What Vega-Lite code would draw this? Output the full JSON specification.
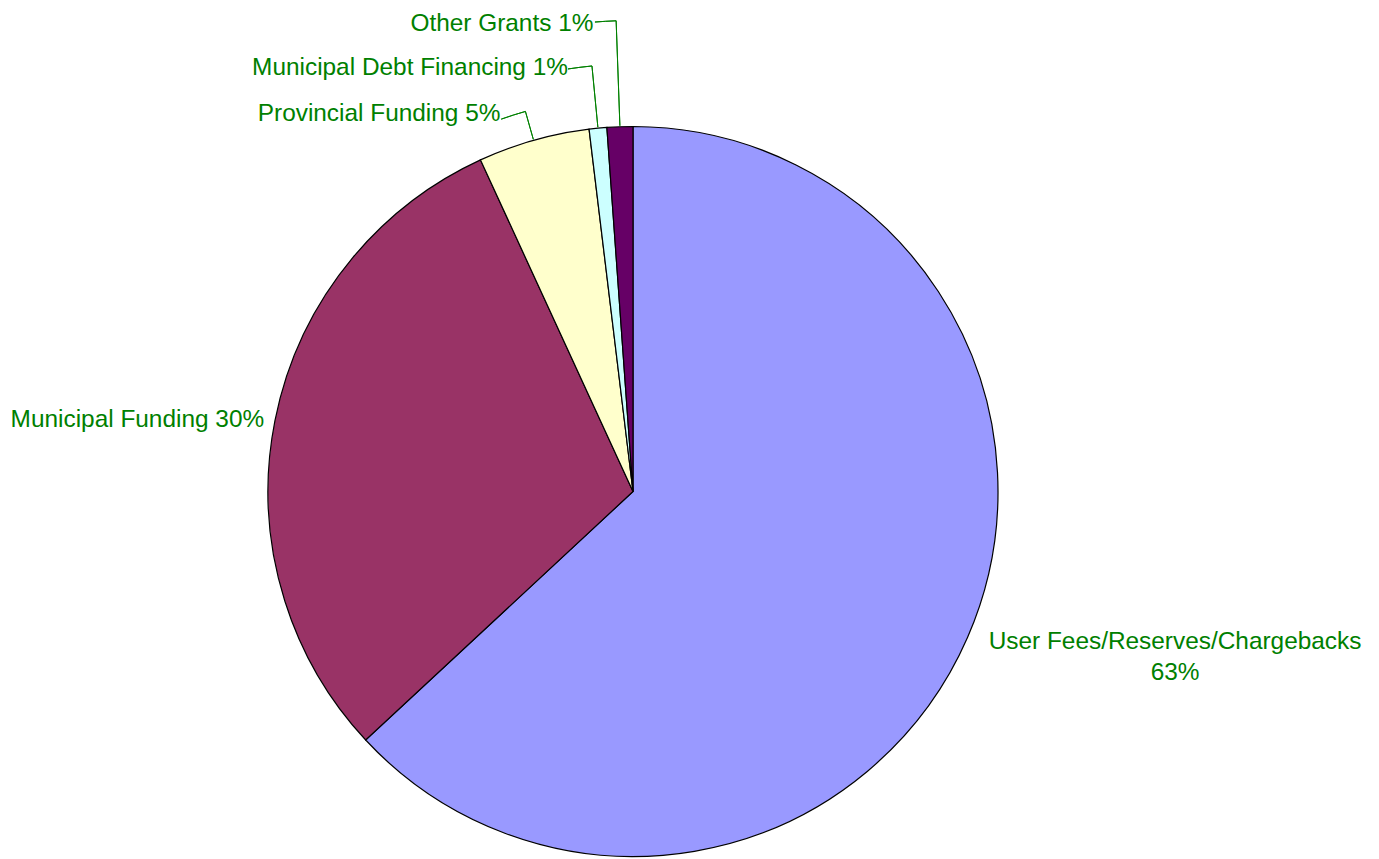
{
  "$schema": "https://vega.github.io/schema/vega-lite/v6.json",
  "width": 1266,
  "height": 735,
  "autosize": {"type": "none"},
  "padding": {"left": 0, "top": 124, "right": 113, "bottom": 0},
  "background": "white",
  "view": {"stroke": null},
  "config": {
    "text": {"font": "Liberation Sans", "fontSize": 24.4, "color": "#008000", "baseline": "alphabetic"}
  },
  "data": {
    "values": [
      {"source": "User Fees/Reserves/Chargebacks", "value": 63.08, "rank": 1, "label": "User Fees/Reserves/Chargebacks\n63%"},
      {"source": "Municipal Funding", "value": 30.06, "rank": 2, "label": "Municipal Funding 30%"},
      {"source": "Provincial Funding", "value": 4.94, "rank": 3, "label": "Provincial Funding 5%"},
      {"source": "Municipal Debt Financing", "value": 0.78, "rank": 4, "label": "Municipal Debt Financing 1%"},
      {"source": "Other Grants", "value": 1.14, "rank": 5, "label": "Other Grants 1%"}
    ]
  },
  "layer": [
    {
      "mark": {"type": "arc", "radius": 365, "stroke": "black", "strokeWidth": 1.2},
      "encoding": {
        "theta": {"field": "value", "type": "quantitative", "stack": true},
        "order": {"field": "rank", "type": "quantitative"},
        "color": {
          "field": "source",
          "type": "nominal",
          "sort": null,
          "scale": {
            "domain": ["User Fees/Reserves/Chargebacks", "Municipal Funding", "Provincial Funding", "Municipal Debt Financing", "Other Grants"],
            "range": ["#9999FF", "#993366", "#FFFFCC", "#CCFFFF", "#660066"]
          },
          "legend": null
        }
      }
    },
    {
      "transform": [
        {"stack": "value", "groupby": [], "sort": [{"field": "rank", "order": "ascending"}], "as": ["v0", "v1"]}
      ],
      "layer": [
        {
          "transform": [{"filter": "datum.source === 'Provincial Funding'"}],
          "layer": [
            {
              "mark": {"type": "arc", "radius": 395, "radius2": 366, "padAngle": 1.2, "fill": "white", "fillOpacity": 0, "stroke": "#008000", "strokeWidth": 1},
              "encoding": {"theta": {"field": "v0", "type": "quantitative"}, "theta2": {"field": "v1"}}
            },
            {
              "mark": {"type": "arc", "radius": 395, "radius2": 395, "thetaOffset": 0.0908, "theta2Offset": -0.1553, "fill": "white", "fillOpacity": 0, "stroke": "#008000", "strokeWidth": 1},
              "encoding": {"theta": {"field": "v0", "type": "quantitative"}, "theta2": {"field": "v1"}}
            }
          ]
        },
        {
          "transform": [{"filter": "datum.source === 'Municipal Debt Financing'"}],
          "layer": [
            {
              "mark": {"type": "arc", "radius": 427.5, "radius2": 366, "padAngle": 1.2, "fill": "white", "fillOpacity": 0, "stroke": "#008000", "strokeWidth": 1},
              "encoding": {"theta": {"field": "v0", "type": "quantitative"}, "theta2": {"field": "v1"}}
            },
            {
              "mark": {"type": "arc", "radius": 427.5, "radius2": 427.5, "thetaOffset": -0.0319, "theta2Offset": -0.0245, "fill": "white", "fillOpacity": 0, "stroke": "#008000", "strokeWidth": 1},
              "encoding": {"theta": {"field": "v0", "type": "quantitative"}, "theta2": {"field": "v1"}}
            }
          ]
        },
        {
          "transform": [{"filter": "datum.source === 'Other Grants'"}],
          "layer": [
            {
              "mark": {"type": "arc", "radius": 471, "radius2": 366, "padAngle": 1.2, "fill": "white", "fillOpacity": 0, "stroke": "#008000", "strokeWidth": 1},
              "encoding": {"theta": {"field": "v0", "type": "quantitative"}, "theta2": {"field": "v1"}}
            },
            {
              "mark": {"type": "arc", "radius": 471, "radius2": 471, "thetaOffset": -0.00925, "theta2Offset": -0.0358, "fill": "white", "fillOpacity": 0, "stroke": "#008000", "strokeWidth": 1},
              "encoding": {"theta": {"field": "v0", "type": "quantitative"}, "theta2": {"field": "v1"}}
            }
          ]
        }
      ]
    },
    {
      "encoding": {
        "theta": {"field": "value", "type": "quantitative", "stack": true},
        "order": {"field": "rank", "type": "quantitative"}
      },
      "layer": [
        {
          "mark": {"type": "text", "radius": 420, "align": "center", "dx": 157, "dy": -10.7, "lineBreak": "\n", "lineHeight": 31.7},
          "encoding": {"text": {"condition": {"test": "datum.source === 'User Fees/Reserves/Chargebacks'", "field": "label"}, "value": ""}}
        },
        {
          "mark": {"type": "text", "radius": 375, "align": "right", "dx": -1, "dy": 8},
          "encoding": {"text": {"condition": {"test": "datum.source === 'Municipal Funding'", "field": "label"}, "value": ""}}
        },
        {
          "mark": {"type": "text", "radius": 395, "align": "right", "dx": -25, "dy": 9.8},
          "encoding": {"text": {"condition": {"test": "datum.source === 'Provincial Funding'", "field": "label"}, "value": ""}}
        },
        {
          "mark": {"type": "text", "radius": 427.5, "align": "right", "dx": -24, "dy": 9.3},
          "encoding": {"text": {"condition": {"test": "datum.source === 'Municipal Debt Financing'", "field": "label"}, "value": ""}}
        },
        {
          "mark": {"type": "text", "radius": 471, "align": "right", "dx": -22.7, "dy": 10},
          "encoding": {"text": {"condition": {"test": "datum.source === 'Other Grants'", "field": "label"}, "value": ""}}
        }
      ]
    }
  ]
}
